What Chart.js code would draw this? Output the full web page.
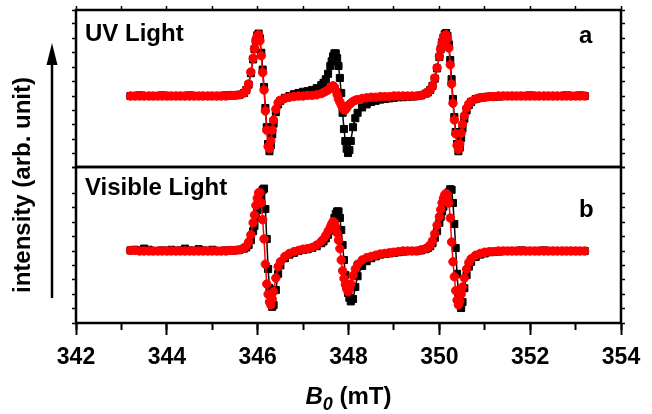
<!DOCTYPE html>
<html><head><meta charset="utf-8">
<script src="https://cdn.jsdelivr.net/npm/chart.js@4.4.1/dist/chart.umd.min.js"></script>
<style>
html,body{margin:0;padding:0;background:#fff;}
#wrap{position:relative;width:652px;height:414px;overflow:hidden;background:#fff;}
canvas{position:absolute;left:0;top:0;}
</style></head><body>
<div id="wrap"><canvas id="cb" width="652" height="414"></canvas><canvas id="ca" width="652" height="414"></canvas></div>
<script>
// Magnetic field B0 (mT)
const fieldMT = [
343.2,343.3,343.4,343.5,343.6,343.7,343.8,343.9,344.0,344.1,344.2,344.3,344.4,344.5,344.6,344.7,344.8,344.9,345.0,345.1,345.2,345.3,345.4,345.5,345.6,
345.7,345.75,345.8,345.85,345.9,345.93,345.96,345.99,346.02,346.05,346.08,346.11,346.14,346.17,346.2,346.23,346.26,346.29,346.32,346.35,346.4,346.45,346.5,346.6,346.7,346.8,346.9,347.0,347.1,347.2,
347.3,347.4,347.45,347.5,347.55,347.6,347.63,347.66,347.69,347.72,347.75,347.78,347.81,347.84,347.87,347.9,347.93,347.96,347.99,348.02,348.05,348.1,348.15,348.2,348.3,348.4,348.5,348.6,348.7,348.8,348.9,349.0,349.1,349.2,349.3,349.4,349.5,349.6,
349.7,349.75,349.8,349.85,349.9,349.95,350.0,350.03,350.06,350.09,350.12,350.15,350.18,350.21,350.24,350.27,350.3,350.33,350.36,350.39,350.42,350.45,350.48,350.51,350.55,350.6,350.65,350.7,350.8,350.9,351.0,
351.1,351.2,351.3,351.4,351.5,351.6,351.7,351.8,351.9,352.0,352.1,352.2,352.3,352.4,352.5,352.6,352.7,352.8,352.9,353.0,353.1,353.2
];
// Panel a (UV light): experiment (black squares)
const uvExperiment = [
0,0,0.01,0,0, 0,0,0.01,0,0, 0,0,0,0.01,0, 0,0,0,0,0, 0,0.01,0.01,0.01,0.02,
0.05,0.1,0.19,0.38,0.61, 0.78,0.92,1.01,1.04,0.96, 0.72,0.44,0.15,-0.2,-0.52, -0.8,-0.92,-0.82,-0.64,-0.46, -0.27,-0.14,-0.08,-0.03,0, 0.03,0.05,0.07,0.08,0.1,
0.13,0.18,0.22,0.28,0.37, 0.5,0.58,0.66,0.71,0.71, 0.63,0.5,0.3,0.05,-0.28, -0.55,-0.75,-0.88,-0.95,-0.9, -0.75,-0.52,-0.37,-0.28,-0.19, -0.14,-0.1,-0.08,-0.06,-0.05, -0.04,-0.03,-0.02,-0.02,-0.01, -0.01,0,0.01,
0.04,0.06,0.1,0.17,0.29, 0.46,0.65,0.78,0.89,0.97, 1.03,1.05,1.0,0.86,0.6, 0.28,-0.05,-0.35,-0.6,-0.8, -0.92,-0.86,-0.7,-0.54,-0.38, -0.24,-0.15,-0.1,-0.05,-0.03, -0.02,
-0.01,-0.01,-0.01,0,0, 0,0,0,0,0.01, 0,0,0,0,0, 0,0,0.01,0,0, 0.01,0
];
// Panel a (UV light): simulation (red circles)
const uvSimulation = [
0,0,0,0,0, 0,0,0,0,0, 0,0,0,0,0, 0,0,0,0,0, 0,0,0.01,0.01,0.02,
0.05,0.1,0.2,0.4,0.63, 0.79,0.92,1.0,1.02,0.92, 0.67,0.39,0.1,-0.25,-0.57, -0.84,-0.88,-0.75,-0.57,-0.4, -0.22,-0.11,-0.07,-0.04,-0.02, -0.01,0,0,0.01,0.01,
0.02,0.04,0.06,0.08,0.1, 0.14,0.16,0.17,0.15,0.09, 0.02,-0.05,-0.1,-0.15,-0.2, -0.23,-0.23,-0.2,-0.16,-0.14, -0.12,-0.09,-0.07,-0.06,-0.04, -0.03,-0.02,-0.02,-0.01,-0.01, -0.01,0,0,0,0, 0,0,0.01,
0.04,0.06,0.1,0.17,0.3, 0.47,0.66,0.78,0.88,0.96, 1.01,1.02,0.95,0.8,0.52, 0.2,-0.12,-0.4,-0.63,-0.82, -0.89,-0.8,-0.62,-0.47,-0.33, -0.2,-0.13,-0.09,-0.05,-0.03, -0.02,
-0.01,-0.01,0,0,0, 0,0,0,0,0, 0,0,0,0,0, 0,0,0,0,0, 0,0
];
// Panel b (visible light): experiment (black squares)
const visExperiment = [
0.01,0.02,0.01,0.04,0.02, 0,0,0.01,0,0.02, 0,0.01,0.04,0.01,0, 0.03,0.01,0,0.02,0, 0,0.01,0.01,0.01,0.02,
0.04,0.06,0.1,0.18,0.33, 0.42,0.55,0.68,0.8,0.9, 0.98,1.02,1.04,0.7,0.2, -0.3,-0.62,-0.82,-0.93,-0.9, -0.65,-0.38,-0.24,-0.12,-0.06, -0.03,0,0.02,0.03,0.05,
0.08,0.13,0.16,0.21,0.27, 0.34,0.4,0.47,0.55,0.62, 0.66,0.66,0.55,0.35,0.1, -0.15,-0.4,-0.58,-0.7,-0.78, -0.84,-0.8,-0.6,-0.42,-0.25, -0.17,-0.12,-0.09,-0.06,-0.05, -0.04,-0.03,-0.02,-0.01,0, 0,0,0.01,
0.03,0.05,0.08,0.13,0.22, 0.33,0.47,0.57,0.66,0.74, 0.82,0.87,0.93,0.98,1.03, 1.02,0.8,0.45,0.05,-0.38, -0.7,-0.88,-0.95,-0.85,-0.62, -0.4,-0.26,-0.18,-0.1,-0.06, -0.04,
-0.02,-0.01,-0.01,0,0, 0,0,0.01,0,0, 0,0,0.01,0,0, 0,0,0,0,0, 0,0
];
// Panel b (visible light): simulation (red circles)
const visSimulation = [
0.01,0.01,0,0,0, 0,0,0,0,0, 0,0,0,0,0, 0,0,0,0,0, 0,0,0.01,0.01,0.02,
0.05,0.08,0.15,0.27,0.47, 0.6,0.76,0.88,0.97,0.97, 0.8,0.52,0.2,-0.22,-0.55, -0.72,-0.85,-0.9,-0.8,-0.68, -0.45,-0.26,-0.18,-0.09,-0.04, -0.01,0.01,0.03,0.04,0.06,
0.1,0.16,0.2,0.26,0.33, 0.4,0.45,0.49,0.47,0.4, 0.3,0.18,0.04,-0.15,-0.33, -0.46,-0.56,-0.63,-0.68,-0.64, -0.55,-0.41,-0.3,-0.22,-0.15, -0.11,-0.09,-0.07,-0.05,-0.04, -0.03,-0.02,-0.01,0,0, 0,0,0.02,
0.04,0.06,0.1,0.17,0.29, 0.43,0.57,0.69,0.8,0.88, 0.94,0.96,0.93,0.8,0.55, 0.15,-0.18,-0.43,-0.66,-0.82, -0.9,-0.84,-0.72,-0.6,-0.45, -0.3,-0.19,-0.13,-0.07,-0.04, -0.02,
-0.01,-0.01,0,0,0, 0,0,0,0,0, 0,0,0,0,0, 0,0,0,0,0, 0,0
];
const panelTitles = ['UV Light', 'Visible Light'];
const panelLetters = ['a', 'b'];
const yAxisTitle = 'intensity (arb. unit)';
const xAxisTitle = ['B', '0', ' (mT)'];
const xRange = [342, 354];

const FONT = '"Liberation Sans", Arial, Helvetica, sans-serif';
Chart.defaults.font.family = FONT;
Chart.defaults.color = '#000';

const pts = ys => fieldMT.map((x, i) => ({x: x, y: ys[i]}));
function expSet(ys){ return {data: pts(ys), showLine: true, borderColor: '#000', backgroundColor: '#000', borderWidth: 1.5,
  pointStyle: 'rect', pointRadius: 5, pointBorderWidth: 1, pointBorderColor: '#000', pointBackgroundColor: '#000', order: 1}; }
function simSet(ys){ return {data: pts(ys), showLine: true, borderColor: '#ff0000', backgroundColor: '#ff0000', borderWidth: 1.5,
  pointStyle: 'circle', pointRadius: 4.2, pointBorderWidth: 1, pointBorderColor: '#ff0000', pointBackgroundColor: '#ff0000', order: 0}; }

function yAxis(pos, min, max){
  return {type: 'linear', position: pos, min: min, max: max,
    ticks: {display: false, stepSize: 0.24, maxTicksLimit: 100},
    grid: {drawOnChartArea: false, drawTicks: true, tickLength: 4, tickWidth: 1.5, tickColor: '#000'},
    border: {display: false}, afterFit(s){ s.width = 6; }};
}
const framePlugin = {id: 'frame', afterDatasetsDraw(chart){
  const {ctx, chartArea: a} = chart; ctx.save(); ctx.strokeStyle = '#000'; ctx.lineWidth = 2.5;
  ctx.strokeRect(a.left, a.top, a.right - a.left, a.bottom - a.top); ctx.restore(); }};

function textPlugin(idx, extra){ return {id: 'txt' + idx, afterDraw(chart){
  const ctx = chart.ctx; const a = chart.chartArea; ctx.save(); ctx.fillStyle = '#000';
  ctx.textBaseline = 'alphabetic'; ctx.textAlign = 'left';
  ctx.font = 'bold 24px ' + FONT;
  ctx.fillText(panelTitles[idx], a.left + 9, a.top + (idx === 0 ? 31 : 28));
  ctx.font = 'bold 24px ' + FONT;
  ctx.fillText(panelLetters[idx], a.left + 503, a.top + (idx === 0 ? 33 : 50));
  if (extra) extra(ctx, a);
  ctx.restore(); }}; }

function decorations(ctx, a){
  // vertical axis title
  ctx.save(); ctx.translate(23, 185); ctx.rotate(-Math.PI / 2);
  ctx.textAlign = 'center'; ctx.textBaseline = 'middle'; ctx.font = 'bold 24px ' + FONT;
  ctx.fillText(yAxisTitle, 0, 0); ctx.restore();
  // arrow
  ctx.strokeStyle = '#000'; ctx.lineWidth = 2.5; ctx.beginPath(); ctx.moveTo(52, 298); ctx.lineTo(52, 60); ctx.stroke();
  ctx.beginPath(); ctx.moveTo(52, 43); ctx.lineTo(46.5, 65); ctx.lineTo(57.5, 65); ctx.closePath(); ctx.fill();
  // x axis title
  const cx = (a.left + a.right) / 2, base = 404;
  ctx.font = 'italic bold 24px ' + FONT; const wB = ctx.measureText(xAxisTitle[0]).width;
  ctx.font = 'italic bold 18px ' + FONT; const w0 = ctx.measureText(xAxisTitle[1]).width;
  ctx.font = 'bold 24px ' + FONT; const wR = ctx.measureText(xAxisTitle[2]).width;
  let x0 = cx - (wB + w0 + wR) / 2;
  ctx.textAlign = 'left';
  ctx.font = 'italic bold 24px ' + FONT; ctx.fillText(xAxisTitle[0], x0, base);
  ctx.font = 'italic bold 18px ' + FONT; ctx.fillText(xAxisTitle[1], x0 + wB, base + 6);
  ctx.font = 'bold 24px ' + FONT; ctx.fillText(xAxisTitle[2], x0 + wB + w0, base);
}

const common = {responsive: false, animation: false, devicePixelRatio: 1, events: [],
  plugins: {legend: {display: false}, tooltip: {enabled: false}}};

new Chart(document.getElementById('ca'), {
  type: 'scatter',
  data: {datasets: [simSet(uvSimulation), expSet(uvExperiment)]},
  options: Object.assign({}, common, {
    layout: {padding: {top: 6, left: 70, right: 25, bottom: 247}},
    scales: {
      x: {type: 'linear', min: xRange[0], max: xRange[1], display: false},
      xTop: {type: 'linear', position: 'top', min: xRange[0], max: xRange[1],
        ticks: {display: false, stepSize: 1}, grid: {drawOnChartArea: false, tickLength: 4, tickWidth: 1.5, tickColor: '#000'},
        border: {display: false}, afterFit(s){ s.height = 4; }},
      y: yAxis('left', -1.183, 1.433),
      yR: yAxis('right', -1.183, 1.433)
    }
  }),
  plugins: [framePlugin, textPlugin(0)]
});

new Chart(document.getElementById('cb'), {
  type: 'scatter',
  data: {datasets: [simSet(visSimulation), expSet(visExperiment)]},
  options: Object.assign({}, common, {
    layout: {padding: {top: 167, left: 70, right: 25, bottom: 31}},
    scales: {
      x: {type: 'linear', position: 'bottom', min: xRange[0], max: xRange[1], weight: 1,
        ticks: {stepSize: 2, autoSkip: false, maxRotation: 0, padding: 9, color: '#000', font: {size: 23, weight: 'bold'}},
        grid: {drawOnChartArea: false, tickLength: 12, tickWidth: 2, tickColor: '#000'},
        border: {display: false}, afterFit(s){ s.height = 60; }},
      xMinor: {type: 'linear', position: 'bottom', min: xRange[0], max: xRange[1], weight: 0,
        ticks: {display: false, stepSize: 1}, grid: {drawOnChartArea: false, tickLength: 7, tickWidth: 2, tickColor: '#000'},
        border: {display: false}, afterFit(s){ s.height = 0; }},
      y: yAxis('left', -1.2, 1.4),
      yR: yAxis('right', -1.2, 1.4)
    }
  }),
  plugins: [framePlugin, textPlugin(1, decorations)]
});
</script>
</body></html>
